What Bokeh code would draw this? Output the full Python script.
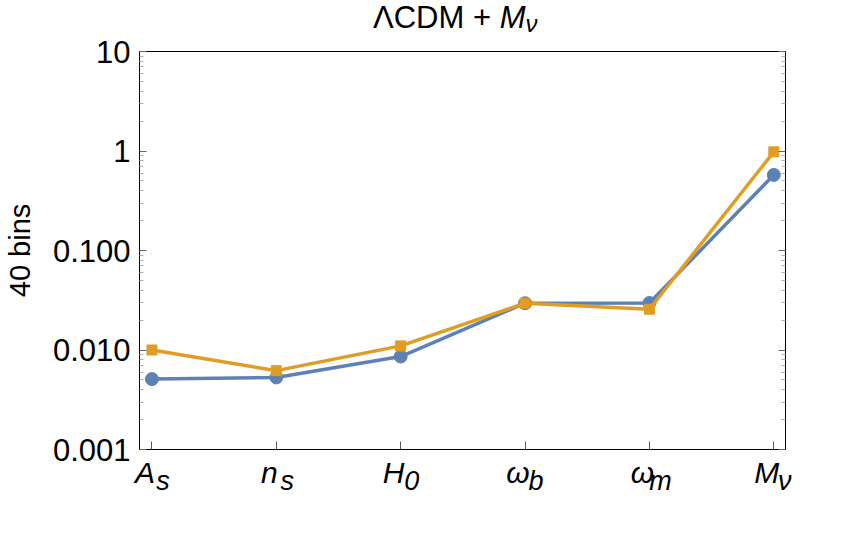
import numpy as np
from bokeh.plotting import figure
from bokeh.layouts import column
from bokeh.models import (Range1d, FixedTicker, LogAxis, LinearAxis, Div,
                          CustomJSTickFormatter)
from bokeh.embed import file_html
from bokeh.resources import INLINE

# ---------------- data ----------------
param_main = ["A", "n", "H", "ω", "ω", "M"]
param_sub = ["s", "s", "0", "b", "m", "ν"]
blue_vals = [0.0051, 0.0053, 0.0086, 0.0295, 0.0297, 0.575]
orange_vals = [0.0100, 0.0062, 0.0110, 0.0295, 0.0257, 0.98]
y_ticks = [0.001, 0.01, 0.1, 1, 10]
y_tick_labels = ["0.001", "0.010", "0.100", "1", "10"]
y_label = "40 bins"
title_main = "ΛCDM +"
title_var = "M"
title_sub = "ν"

BLUE = "#5E81B5"
ORANGE = "#E19C24"
FONT = "Liberation Sans"

x = list(range(len(param_main)))
x0, x1 = -0.1, len(param_main) - 1 + 0.094
x_range = Range1d(x0, x1)
y_range = Range1d(y_ticks[0], y_ticks[-1])

# pixel shifts of the letter / subscript relative to the tick (1 category ~ 124 px)
px_per_cat = 124.3
d_main = 7 / px_per_cat
d_sub = 11 / px_per_cat

p = figure(width=840, height=513, y_axis_type="log",
           x_range=x_range, y_range=y_range,
           output_backend="svg", toolbar_location=None,
           min_border_left=139, min_border_right=55,
           min_border_top=19, min_border_bottom=96)
p.extra_x_ranges = {"xmain": Range1d(x0 + d_main, x1 + d_main),
                    "xsub": Range1d(x0 - d_sub, x1 - d_sub)}

p.xgrid.visible = False
p.ygrid.visible = False
p.outline_line_color = "black"
p.outline_line_width = 1
p.outline_line_alpha = 1
p.border_fill_alpha = 0
p.background_fill_color = "white"

minor = [k * t for t in y_ticks[:-1] for k in range(2, 10)]
label_fmt = CustomJSTickFormatter(
    args=dict(tvals=y_ticks, tlabels=y_tick_labels),
    code="""
    for (let i = 0; i < tvals.length; i++) {
        if (Math.abs(Math.log10(tvals[i]) - Math.log10(tick)) < 1e-6) return tlabels[i];
    }
    return '';
    """)
blank_fmt = CustomJSTickFormatter(code="return '';")

ya = p.yaxis[0]
ya.ticker = FixedTicker(ticks=y_ticks, minor_ticks=minor)
ya.formatter = label_fmt
ya.axis_line_color = "black"
ya.major_tick_in = 7
ya.major_tick_out = 0
ya.minor_tick_in = 4
ya.minor_tick_out = 0
ya.major_tick_line_color = "#666666"
ya.minor_tick_line_color = "#b0b0b0"
ya.major_label_text_font = FONT
ya.major_label_text_font_size = "31px"
ya.major_label_text_color = "black"
ya.major_label_standoff = 9
ya.axis_label = y_label
ya.axis_label_text_font = FONT
ya.axis_label_text_font_size = "29px"
ya.axis_label_text_font_style = "normal"
ya.axis_label_text_color = "black"
ya.axis_label_standoff = 14

xa = p.xaxis[0]
xa.ticker = FixedTicker(ticks=x)
xa.formatter = blank_fmt
xa.axis_line_color = "black"
xa.major_tick_in = 8
xa.major_tick_out = 0
xa.minor_tick_line_color = None
xa.major_tick_line_color = "#555555"
xa.major_label_text_font_size = "1px"
xa.major_label_standoff = 0

ra = LogAxis(ticker=FixedTicker(ticks=y_ticks, minor_ticks=minor),
             formatter=blank_fmt, major_tick_in=7, major_tick_out=0,
             minor_tick_in=4, minor_tick_out=0,
             major_tick_line_color="#666666", minor_tick_line_color="#b0b0b0",
             axis_line_color="black", major_label_text_font_size="1px")
p.add_layout(ra, "right")

# x tick labels: letter axis and subscript axis (both without lines/ticks)
def label_axis(range_name, labels, size, standoff):
    return LinearAxis(
        x_range_name=range_name,
        ticker=FixedTicker(ticks=x),
        formatter=CustomJSTickFormatter(args=dict(labs=labels),
                                        code="return labs[Math.round(tick)];"),
        major_label_text_font=FONT, major_label_text_font_style="italic",
        major_label_text_font_size=size, major_label_text_color="black",
        major_label_standoff=standoff,
        axis_line_color=None, major_tick_line_color=None, minor_tick_line_color=None,
        major_tick_in=0, major_tick_out=0, minor_tick_in=0, minor_tick_out=0)

p.add_layout(label_axis("xmain", param_main, "30px", 6), "below")
p.add_layout(label_axis("xsub", param_sub, "27px", -26), "below")

# ---------------- series ----------------
p.line(x, blue_vals, line_color=BLUE, line_width=3.5)
p.scatter(x, blue_vals, marker="circle", size=13, fill_color=BLUE, line_color=BLUE)
p.line(x, orange_vals, line_color=ORANGE, line_width=3.5)
p.scatter(x, orange_vals, marker="square", size=10, fill_color=ORANGE, line_color=ORANGE)

# ---------------- title ----------------
title = Div(
    text=(f'<div style="padding-left:373px; font-family:\'{FONT}\'; '
          f'font-size:31px; line-height:35px; color:black; white-space:nowrap;">'
          f'{title_main} <i>{title_var}</i>'
          f'<i style="font-size:24px; position:relative; top:4px;">{title_sub}</i></div>'),
    width=840, height=32, margin=(0, 0, 0, 0))

layout = column(title, p, spacing=0)
open("out.html", "w").write(file_html(layout, INLINE))
